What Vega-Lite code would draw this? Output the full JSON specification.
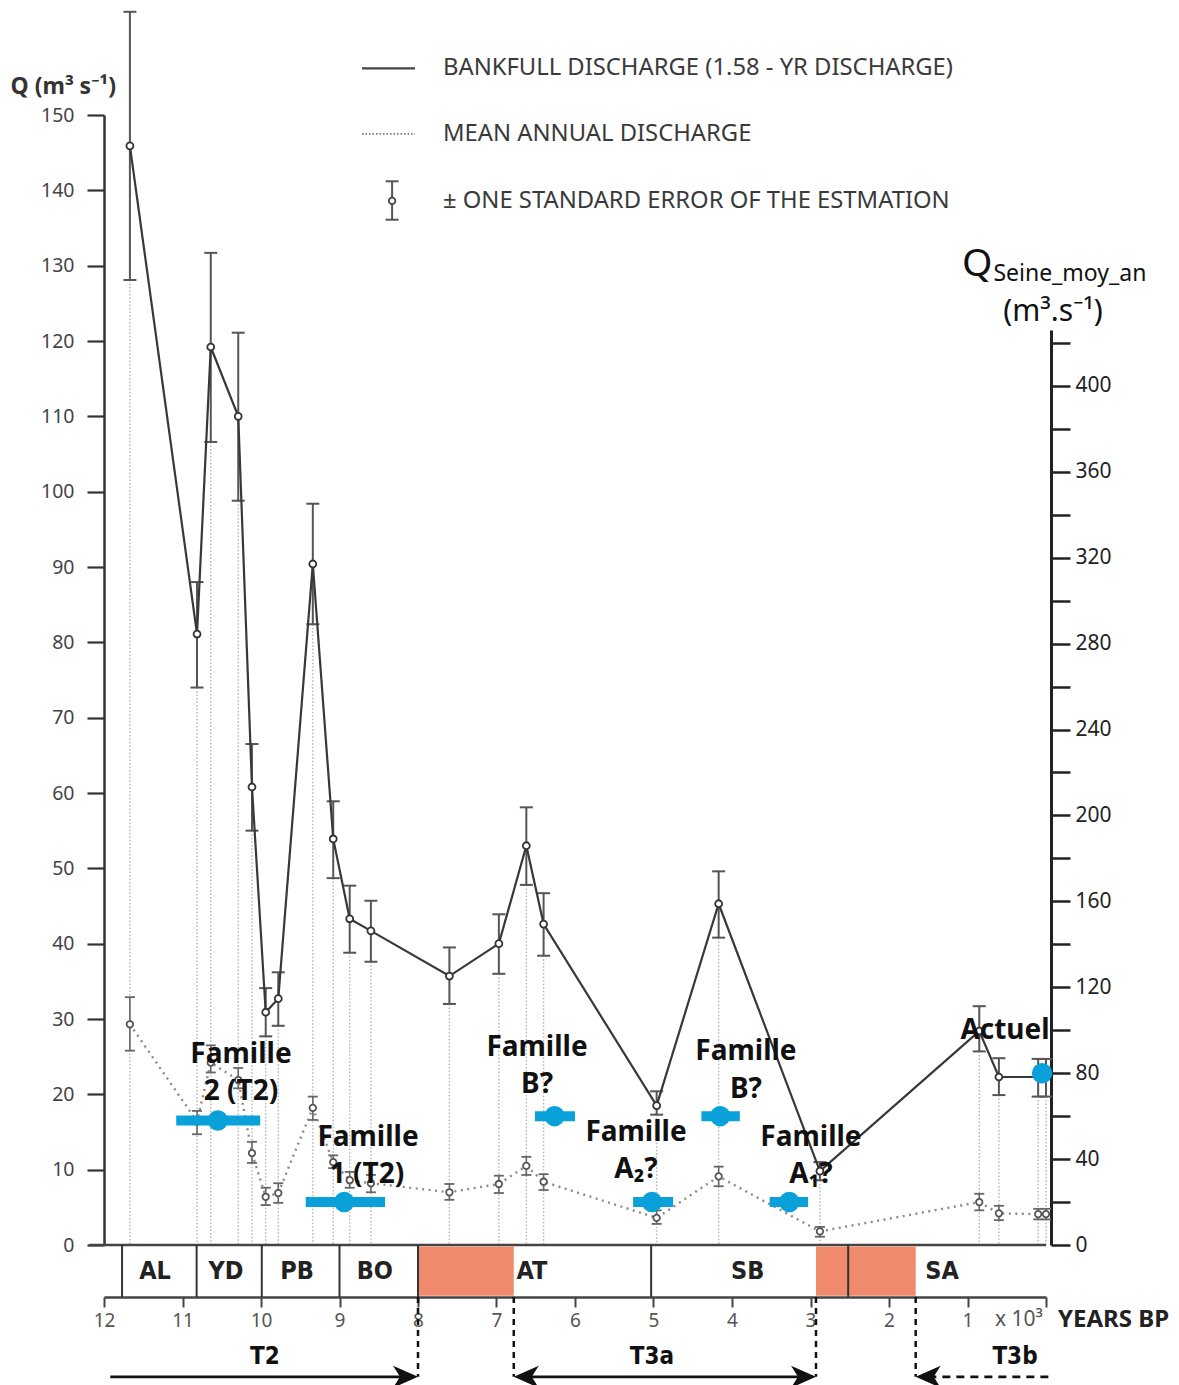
{
  "$schema": "https://vega.github.io/schema/vega-lite/v6.json",
  "autosize": {"type": "none"},
  "padding": {"left": 104, "top": 115, "right": 133, "bottom": 140},
  "width": 942,
  "height": 1130,
  "background": "white",
  "config": {"view": {"stroke": null}, "font": "Noto Sans"},
  "datasets": {
    "pts": [
      {"t": 11.67, "bank": 145.9, "bankLo": 128.1, "bankHi": 163.7, "mean": 29.3, "meanLo": 25.8, "meanHi": 32.9},
      {"t": 10.815, "bank": 81.1, "bankLo": 74.0, "bankHi": 88.0, "mean": 16.4, "meanLo": 14.7, "meanHi": 17.8},
      {"t": 10.64, "bank": 119.2, "bankLo": 106.6, "bankHi": 131.7, "mean": 24.2, "meanLo": 22.9, "meanHi": 26.5},
      {"t": 10.29, "bank": 110.0, "bankLo": 98.8, "bankHi": 121.1, "mean": 21.9, "meanLo": 20.8, "meanHi": 23.5},
      {"t": 10.115, "bank": 60.8, "bankLo": 55.0, "bankHi": 66.5, "mean": 12.2, "meanLo": 10.9, "meanHi": 13.7},
      {"t": 9.94, "bank": 30.9, "bankLo": 27.7, "bankHi": 34.1, "mean": 6.4, "meanLo": 5.3, "meanHi": 7.6},
      {"t": 9.78, "bank": 32.7, "bankLo": 29.1, "bankHi": 36.2, "mean": 6.9, "meanLo": 5.6, "meanHi": 8.2},
      {"t": 9.34, "bank": 90.4, "bankLo": 82.4, "bankHi": 98.4, "mean": 18.2, "meanLo": 16.6, "meanHi": 19.7},
      {"t": 9.08, "bank": 53.9, "bankLo": 48.7, "bankHi": 58.9, "mean": 11.0, "meanLo": 10.2, "meanHi": 11.9},
      {"t": 8.87, "bank": 43.3, "bankLo": 38.8, "bankHi": 47.7, "mean": 8.6, "meanLo": 7.6, "meanHi": 9.7},
      {"t": 8.6, "bank": 41.7, "bankLo": 37.6, "bankHi": 45.7, "mean": 8.2, "meanLo": 7.0, "meanHi": 9.3},
      {"t": 7.6, "bank": 35.7, "bankLo": 32.0, "bankHi": 39.5, "mean": 7.0, "meanLo": 6.0, "meanHi": 8.1},
      {"t": 6.97, "bank": 40.0, "bankLo": 36.0, "bankHi": 43.9, "mean": 8.1, "meanLo": 6.9, "meanHi": 9.2},
      {"t": 6.62, "bank": 53.0, "bankLo": 47.8, "bankHi": 58.1, "mean": 10.5, "meanLo": 9.3, "meanHi": 11.7},
      {"t": 6.4, "bank": 42.6, "bankLo": 38.4, "bankHi": 46.7, "mean": 8.4, "meanLo": 7.3, "meanHi": 9.4},
      {"t": 4.96, "bank": 18.5, "bankLo": 17.3, "bankHi": 20.4, "mean": 3.6, "meanLo": 2.8, "meanHi": 4.6},
      {"t": 4.17, "bank": 45.3, "bankLo": 40.8, "bankHi": 49.6, "mean": 9.1, "meanLo": 7.8, "meanHi": 10.4},
      {"t": 2.88, "bank": 9.8, "bankLo": 8.6, "bankHi": 11.0, "mean": 1.8, "meanLo": 1.1, "meanHi": 2.4},
      {"t": 0.85, "bank": 28.4, "bankLo": 25.7, "bankHi": 31.7, "mean": 5.7, "meanLo": 4.6, "meanHi": 6.8},
      {"t": 0.6, "bank": 22.3, "bankLo": 19.9, "bankHi": 24.8, "mean": 4.2, "meanLo": 3.3, "meanHi": 5.2},
      {"t": 0.1, "bank": 22.3, "bankLo": 19.7, "bankHi": 24.7, "mean": 4.1, "meanLo": 3.4, "meanHi": 4.8},
      {"t": 0.0, "bank": 22.3, "bankLo": 19.7, "bankHi": 24.7, "mean": 4.1, "meanLo": 3.4, "meanHi": 4.8}
    ],
    "seine": [
      {"name": "Famille 2 (T2)", "t": 10.55, "b1": 11.08, "b2": 10.01, "v": 58},
      {"name": "Famille 1 (T2)", "t": 8.94, "b1": 9.43, "b2": 8.42, "v": 20},
      {"name": "Famille B? (1)", "t": 6.26, "b1": 6.51, "b2": 6.0, "v": 60},
      {"name": "Famille A2?", "t": 5.02, "b1": 5.26, "b2": 4.75, "v": 20},
      {"name": "Famille B? (2)", "t": 4.15, "b1": 4.39, "b2": 3.9, "v": 60},
      {"name": "Famille A1?", "t": 3.27, "b1": 3.52, "b2": 3.03, "v": 20},
      {"name": "Actuel", "t": 0.05, "v": 80}
    ],
    "labels": [
      {"t": 10.255, "q": 25.2, "text": "Famille"},
      {"t": 10.255, "q": 20.3, "text": "2 (T2)"},
      {"t": 8.637, "q": 14.2, "text": "Famille"},
      {"t": 8.65, "q": 9.3, "text": "1 (T2)"},
      {"t": 6.484, "q": 26.1, "text": "Famille"},
      {"t": 6.484, "q": 21.2, "text": "B?"},
      {"t": 5.223, "q": 14.9, "text": "Famille"},
      {"t": 5.223, "q": 10.0, "text": "A₂?"},
      {"t": 3.822, "q": 25.6, "text": "Famille"},
      {"t": 3.822, "q": 20.6, "text": "B?"},
      {"t": 2.994, "q": 14.2, "text": "Famille"},
      {"t": 2.994, "q": 9.3, "text": "A₁?"},
      {"t": 0.522, "q": 28.4, "text": "Actuel"}
    ],
    "legendText": [
      {"t": 7.682, "q": 156.2, "text": "BANKFULL DISCHARGE (1.58 - YR DISCHARGE)"},
      {"t": 7.682, "q": 147.5, "text": "MEAN ANNUAL DISCHARGE"},
      {"t": 7.682, "q": 138.6, "text": "± ONE STANDARD ERROR OF THE ESTMATION"}
    ],
    "zones": [
      {"t": 11.35, "label": "AL"},
      {"t": 10.445, "label": "YD"},
      {"t": 9.54, "label": "PB"},
      {"t": 8.55, "label": "BO"},
      {"t": 6.55, "label": "AT"},
      {"t": 3.8, "label": "SB"},
      {"t": 1.325, "label": "SA"}
    ],
    "gaps": [{"t": 8.0, "t2": 6.78}, {"t": 2.93, "t2": 1.66}],
    "bounds": [{"t": 11.77}, {"t": 10.82}, {"t": 9.99}, {"t": 9.0}, {"t": 8.0}, {"t": 5.03}, {"t": 2.52}],
    "limits": [{"t": 8.0}, {"t": 6.78}, {"t": 2.93}, {"t": 1.66}],
    "terraces": [
      {"t": 9.95, "label": "T2"},
      {"t": 5.02, "label": "T3a"},
      {"t": 0.395, "label": "T3b"}
    ]
  },
  "resolve": {"scale": {"y": "independent"}, "axis": {"y": "independent"}},
  "layer": [
    {
      "layer": [
        {
          "data": {"name": "pts"},
          "mark": {"type": "rule", "color": "#b4b4b4", "strokeWidth": 1.4, "strokeDash": [1.5, 2]},
          "encoding": {
            "x": {"field": "t", "type": "quantitative", "scale": {"domain": [0, 12], "reverse": true, "nice": false, "zero": false},
              "axis": {"orient": "bottom", "offset": 52, "values": [0, 1, 2, 3, 4, 5, 6, 7, 8, 9, 10, 11, 12], "format": "d", "labelExpr": "datum.value == 0 ? '' : datum.label", "tickSize": 10, "tickWidth": 2, "tickColor": "#444", "domainColor": "#444", "domainWidth": 2.5, "labelFontSize": 19, "labelColor": "#555", "labelPadding": 4, "labelFlush": false, "labelOverlap": false, "grid": false, "title": null}},
            "y": {"field": "bankLo", "type": "quantitative", "scale": {"domain": [0, 150], "nice": false, "zero": false},
              "axis": {"orient": "left", "values": [0, 10, 20, 30, 40, 50, 60, 70, 80, 90, 100, 110, 120, 130, 140, 150], "format": "d", "tickSize": 17, "tickWidth": 2.2, "tickColor": "#333", "domainColor": "#333", "domainWidth": 2.5, "labelFontSize": 19.5, "labelColor": "#444", "labelPadding": 13, "labelFlush": false, "labelOverlap": false, "grid": false,
                "title": "Q (m³ s⁻¹)", "titleAngle": 0, "titleAlign": "left", "titleBaseline": "middle", "titleX": -94, "titleY": -29, "titleFontSize": 23, "titleFontWeight": "bold", "titleColor": "#333"}},
            "y2": {"datum": 0}
          }
        },
        {
          "data": {"name": "pts"},
          "mark": {"type": "rule", "color": "#666", "strokeWidth": 1.6},
          "encoding": {
            "x": {"field": "t", "type": "quantitative", "scale": {"domain": [0, 12], "reverse": true, "nice": false, "zero": false}},
            "y": {"field": "meanLo", "type": "quantitative", "scale": {"domain": [0, 150], "nice": false, "zero": false}},
            "y2": {"field": "meanHi"}
          }
        },
        {
          "data": {"name": "pts"},
          "mark": {"type": "tick", "orient": "horizontal", "size": 10, "thickness": 1.8, "color": "#666", "opacity": 1},
          "encoding": {
            "x": {"field": "t", "type": "quantitative", "scale": {"domain": [0, 12], "reverse": true, "nice": false, "zero": false}},
            "y": {"field": "meanLo", "type": "quantitative", "scale": {"domain": [0, 150], "nice": false, "zero": false}}
          }
        },
        {
          "data": {"name": "pts"},
          "mark": {"type": "tick", "orient": "horizontal", "size": 10, "thickness": 1.8, "color": "#666", "opacity": 1},
          "encoding": {
            "x": {"field": "t", "type": "quantitative", "scale": {"domain": [0, 12], "reverse": true, "nice": false, "zero": false}},
            "y": {"field": "meanHi", "type": "quantitative", "scale": {"domain": [0, 150], "nice": false, "zero": false}}
          }
        },
        {
          "data": {"name": "pts"},
          "mark": {"type": "line", "color": "#8a8a8a", "strokeWidth": 2.4, "strokeDash": [2, 4.5]},
          "encoding": {
            "x": {"field": "t", "type": "quantitative", "scale": {"domain": [0, 12], "reverse": true, "nice": false, "zero": false}},
            "y": {"field": "mean", "type": "quantitative", "scale": {"domain": [0, 150], "nice": false, "zero": false}}
          }
        },
        {
          "data": {"name": "pts"},
          "mark": {"type": "point", "filled": true, "fill": "white", "stroke": "#555", "strokeWidth": 1.8, "size": 42, "opacity": 1},
          "encoding": {
            "x": {"field": "t", "type": "quantitative", "scale": {"domain": [0, 12], "reverse": true, "nice": false, "zero": false}},
            "y": {"field": "mean", "type": "quantitative", "scale": {"domain": [0, 150], "nice": false, "zero": false}}
          }
        },
        {
          "data": {"name": "pts"},
          "mark": {"type": "rule", "color": "#555", "strokeWidth": 2},
          "encoding": {
            "x": {"field": "t", "type": "quantitative", "scale": {"domain": [0, 12], "reverse": true, "nice": false, "zero": false}},
            "y": {"field": "bankLo", "type": "quantitative", "scale": {"domain": [0, 150], "nice": false, "zero": false}},
            "y2": {"field": "bankHi"}
          }
        },
        {
          "data": {"name": "pts"},
          "mark": {"type": "tick", "orient": "horizontal", "size": 13, "thickness": 2, "color": "#555", "opacity": 1},
          "encoding": {
            "x": {"field": "t", "type": "quantitative", "scale": {"domain": [0, 12], "reverse": true, "nice": false, "zero": false}},
            "y": {"field": "bankLo", "type": "quantitative", "scale": {"domain": [0, 150], "nice": false, "zero": false}}
          }
        },
        {
          "data": {"name": "pts"},
          "mark": {"type": "tick", "orient": "horizontal", "size": 13, "thickness": 2, "color": "#555", "opacity": 1},
          "encoding": {
            "x": {"field": "t", "type": "quantitative", "scale": {"domain": [0, 12], "reverse": true, "nice": false, "zero": false}},
            "y": {"field": "bankHi", "type": "quantitative", "scale": {"domain": [0, 150], "nice": false, "zero": false}}
          }
        },
        {
          "data": {"name": "pts"},
          "mark": {"type": "line", "color": "#383838", "strokeWidth": 2.2},
          "encoding": {
            "x": {"field": "t", "type": "quantitative", "scale": {"domain": [0, 12], "reverse": true, "nice": false, "zero": false}},
            "y": {"field": "bank", "type": "quantitative", "scale": {"domain": [0, 150], "nice": false, "zero": false}}
          }
        },
        {
          "data": {"name": "pts"},
          "mark": {"type": "point", "filled": true, "fill": "white", "stroke": "#333", "strokeWidth": 1.8, "size": 48, "opacity": 1},
          "encoding": {
            "x": {"field": "t", "type": "quantitative", "scale": {"domain": [0, 12], "reverse": true, "nice": false, "zero": false}},
            "y": {"field": "bank", "type": "quantitative", "scale": {"domain": [0, 150], "nice": false, "zero": false}}
          }
        },
        {
          "data": {"values": [{"t": 8.713, "t2": 8.038, "q": 156.2}]},
          "mark": {"type": "rule", "color": "#444", "strokeWidth": 2.2},
          "encoding": {
            "x": {"field": "t", "type": "quantitative", "scale": {"domain": [0, 12], "reverse": true, "nice": false, "zero": false}},
            "x2": {"field": "t2"},
            "y": {"field": "q", "type": "quantitative", "scale": {"domain": [0, 150], "nice": false, "zero": false}}
          }
        },
        {
          "data": {"values": [{"t": 8.713, "t2": 8.038, "q": 147.5}]},
          "mark": {"type": "rule", "color": "#777", "strokeWidth": 1.6, "strokeDash": [1.5, 2]},
          "encoding": {
            "x": {"field": "t", "type": "quantitative", "scale": {"domain": [0, 12], "reverse": true, "nice": false, "zero": false}},
            "x2": {"field": "t2"},
            "y": {"field": "q", "type": "quantitative", "scale": {"domain": [0, 150], "nice": false, "zero": false}}
          }
        },
        {
          "data": {"values": [{"t": 8.33, "q": 138.6, "lo": 136.1, "hi": 141.2}]},
          "mark": {"type": "rule", "color": "#555", "strokeWidth": 2},
          "encoding": {
            "x": {"field": "t", "type": "quantitative", "scale": {"domain": [0, 12], "reverse": true, "nice": false, "zero": false}},
            "y": {"field": "lo", "type": "quantitative", "scale": {"domain": [0, 150], "nice": false, "zero": false}},
            "y2": {"field": "hi"}
          }
        },
        {
          "data": {"values": [{"t": 8.33, "q": 138.6, "lo": 136.1, "hi": 141.2}]},
          "mark": {"type": "tick", "orient": "horizontal", "size": 13, "thickness": 2, "color": "#555", "opacity": 1},
          "encoding": {
            "x": {"field": "t", "type": "quantitative", "scale": {"domain": [0, 12], "reverse": true, "nice": false, "zero": false}},
            "y": {"field": "lo", "type": "quantitative", "scale": {"domain": [0, 150], "nice": false, "zero": false}}
          }
        },
        {
          "data": {"values": [{"t": 8.33, "q": 138.6, "lo": 136.1, "hi": 141.2}]},
          "mark": {"type": "tick", "orient": "horizontal", "size": 13, "thickness": 2, "color": "#555", "opacity": 1},
          "encoding": {
            "x": {"field": "t", "type": "quantitative", "scale": {"domain": [0, 12], "reverse": true, "nice": false, "zero": false}},
            "y": {"field": "hi", "type": "quantitative", "scale": {"domain": [0, 150], "nice": false, "zero": false}}
          }
        },
        {
          "data": {"values": [{"t": 8.33, "q": 138.6, "lo": 136.1, "hi": 141.2}]},
          "mark": {"type": "point", "filled": true, "fill": "white", "stroke": "#444", "strokeWidth": 1.8, "size": 42, "opacity": 1},
          "encoding": {
            "x": {"field": "t", "type": "quantitative", "scale": {"domain": [0, 12], "reverse": true, "nice": false, "zero": false}},
            "y": {"field": "q", "type": "quantitative", "scale": {"domain": [0, 150], "nice": false, "zero": false}}
          }
        },
        {
          "data": {"name": "legendText"},
          "mark": {"type": "text", "align": "left", "baseline": "middle", "fontSize": 23.8, "color": "#3a3a3a", "font": "Noto Sans"},
          "encoding": {
            "x": {"field": "t", "type": "quantitative", "scale": {"domain": [0, 12], "reverse": true, "nice": false, "zero": false}},
            "y": {"field": "q", "type": "quantitative", "scale": {"domain": [0, 150], "nice": false, "zero": false}},
            "text": {"field": "text"}
          }
        },
        {
          "data": {"values": [{"t": 12.19, "t2": 0}]},
          "mark": {"type": "rule", "color": "#444", "strokeWidth": 2.5},
          "encoding": {
            "x": {"field": "t", "type": "quantitative", "scale": {"domain": [0, 12], "reverse": true, "nice": false, "zero": false}},
            "x2": {"field": "t2"},
            "y": {"datum": 0, "type": "quantitative", "scale": {"domain": [0, 150], "nice": false, "zero": false}}
          }
        },
        {
          "data": {"name": "gaps"},
          "mark": {"type": "rect", "color": "#f08a6c", "opacity": 1},
          "encoding": {
            "x": {"field": "t", "type": "quantitative", "scale": {"domain": [0, 12], "reverse": true, "nice": false, "zero": false}},
            "x2": {"field": "t2"},
            "y": {"datum": -0.2, "type": "quantitative", "scale": {"domain": [0, 150], "nice": false, "zero": false}},
            "y2": {"datum": -6.75}
          }
        },
        {
          "data": {"name": "bounds"},
          "mark": {"type": "rule", "color": "#333", "strokeWidth": 2},
          "encoding": {
            "x": {"field": "t", "type": "quantitative", "scale": {"domain": [0, 12], "reverse": true, "nice": false, "zero": false}},
            "y": {"datum": 0, "type": "quantitative", "scale": {"domain": [0, 150], "nice": false, "zero": false}},
            "y2": {"datum": -6.9}
          }
        },
        {
          "data": {"name": "zones"},
          "mark": {"type": "text", "align": "center", "baseline": "middle", "fontSize": 25, "fontWeight": "bold", "color": "#222", "font": "DejaVu Sans Condensed, Liberation Sans Narrow, Roboto"},
          "encoding": {
            "x": {"field": "t", "type": "quantitative", "scale": {"domain": [0, 12], "reverse": true, "nice": false, "zero": false}},
            "y": {"datum": -3.5, "type": "quantitative", "scale": {"domain": [0, 150], "nice": false, "zero": false}},
            "text": {"field": "label"}
          }
        },
        {
          "data": {"name": "limits"},
          "mark": {"type": "rule", "color": "#111", "strokeWidth": 2.5, "strokeDash": [6, 5]},
          "encoding": {
            "x": {"field": "t", "type": "quantitative", "scale": {"domain": [0, 12], "reverse": true, "nice": false, "zero": false}},
            "y": {"datum": -6.9, "type": "quantitative", "scale": {"domain": [0, 150], "nice": false, "zero": false}},
            "y2": {"datum": -17.5}
          }
        },
        {
          "data": {"values": [{"t": 11.92, "t2": 8.1}, {"t": 6.7, "t2": 3.03}]},
          "mark": {"type": "rule", "color": "#111", "strokeWidth": 2.8},
          "encoding": {
            "x": {"field": "t", "type": "quantitative", "scale": {"domain": [0, 12], "reverse": true, "nice": false, "zero": false}},
            "x2": {"field": "t2"},
            "y": {"datum": -17.5, "type": "quantitative", "scale": {"domain": [0, 150], "nice": false, "zero": false}}
          }
        },
        {
          "data": {"values": [{"t": -0.03, "t2": 1.55}]},
          "mark": {"type": "rule", "color": "#111", "strokeWidth": 2.8, "strokeDash": [8, 6]},
          "encoding": {
            "x": {"field": "t", "type": "quantitative", "scale": {"domain": [0, 12], "reverse": true, "nice": false, "zero": false}},
            "x2": {"field": "t2"},
            "y": {"datum": -17.5, "type": "quantitative", "scale": {"domain": [0, 150], "nice": false, "zero": false}}
          }
        },
        {
          "data": {"values": [{"t": 8.0}, {"t": 2.93}]},
          "mark": {"type": "point", "shape": "M0,0 L-1,-0.44 L-0.72,0 L-1,0.44 Z", "filled": true, "color": "#111", "size": 2500, "opacity": 1},
          "encoding": {
            "x": {"field": "t", "type": "quantitative", "scale": {"domain": [0, 12], "reverse": true, "nice": false, "zero": false}},
            "y": {"datum": -17.5, "type": "quantitative", "scale": {"domain": [0, 150], "nice": false, "zero": false}}
          }
        },
        {
          "data": {"values": [{"t": 6.78}, {"t": 1.66}]},
          "mark": {"type": "point", "shape": "M0,0 L1,-0.44 L0.72,0 L1,0.44 Z", "filled": true, "color": "#111", "size": 2500, "opacity": 1},
          "encoding": {
            "x": {"field": "t", "type": "quantitative", "scale": {"domain": [0, 12], "reverse": true, "nice": false, "zero": false}},
            "y": {"datum": -17.5, "type": "quantitative", "scale": {"domain": [0, 150], "nice": false, "zero": false}}
          }
        },
        {
          "data": {"name": "terraces"},
          "mark": {"type": "text", "align": "center", "baseline": "middle", "fontSize": 24, "fontWeight": "bold", "color": "#111", "font": "DejaVu Sans Condensed, Liberation Sans Narrow, Noto Sans"},
          "encoding": {
            "x": {"field": "t", "type": "quantitative", "scale": {"domain": [0, 12], "reverse": true, "nice": false, "zero": false}},
            "y": {"datum": -14.9, "type": "quantitative", "scale": {"domain": [0, 150], "nice": false, "zero": false}},
            "text": {"field": "label"}
          }
        },
        {
          "data": {"values": [{"t": 0.65, "text": "x 10³"}]},
          "mark": {"type": "text", "align": "left", "baseline": "middle", "fontSize": 21, "color": "#555", "font": "Noto Sans"},
          "encoding": {
            "x": {"field": "t", "type": "quantitative", "scale": {"domain": [0, 12], "reverse": true, "nice": false, "zero": false}},
            "y": {"datum": -9.96, "type": "quantitative", "scale": {"domain": [0, 150], "nice": false, "zero": false}},
            "text": {"field": "text"}
          }
        },
        {
          "data": {"values": [{"t": -0.153, "text": "YEARS BP"}]},
          "mark": {"type": "text", "align": "left", "baseline": "middle", "fontSize": 24, "fontWeight": "bold", "color": "#222", "font": "Noto Sans"},
          "encoding": {
            "x": {"field": "t", "type": "quantitative", "scale": {"domain": [0, 12], "reverse": true, "nice": false, "zero": false}},
            "y": {"datum": -9.96, "type": "quantitative", "scale": {"domain": [0, 150], "nice": false, "zero": false}},
            "text": {"field": "text"}
          }
        },
        {
          "data": {"name": "labels"},
          "mark": {"type": "text", "align": "center", "baseline": "middle", "fontSize": 28, "fontWeight": "bold", "color": "#111", "font": "Noto Sans"},
          "encoding": {
            "x": {"field": "t", "type": "quantitative", "scale": {"domain": [0, 12], "reverse": true, "nice": false, "zero": false}},
            "y": {"field": "q", "type": "quantitative", "scale": {"domain": [0, 150], "nice": false, "zero": false}},
            "text": {"field": "text"}
          }
        },
        {
          "data": {"values": [{"t": 1.07, "q": 128.6, "text": "Q"}]},
          "mark": {"type": "text", "align": "left", "baseline": "alphabetic", "fontSize": 39, "color": "#111", "font": "Noto Sans"},
          "encoding": {
            "x": {"field": "t", "type": "quantitative", "scale": {"domain": [0, 12], "reverse": true, "nice": false, "zero": false}},
            "y": {"field": "q", "type": "quantitative", "scale": {"domain": [0, 150], "nice": false, "zero": false}},
            "text": {"field": "text"}
          }
        },
        {
          "data": {"values": [{"t": 0.67, "q": 128.0, "text": "Seine_moy_an"}]},
          "mark": {"type": "text", "align": "left", "baseline": "alphabetic", "fontSize": 23, "color": "#111", "font": "Noto Sans"},
          "encoding": {
            "x": {"field": "t", "type": "quantitative", "scale": {"domain": [0, 12], "reverse": true, "nice": false, "zero": false}},
            "y": {"field": "q", "type": "quantitative", "scale": {"domain": [0, 150], "nice": false, "zero": false}},
            "text": {"field": "text"}
          }
        },
        {
          "data": {"values": [{"t": -0.089, "q": 122.7, "text": "(m³.s⁻¹)"}]},
          "mark": {"type": "text", "align": "center", "baseline": "alphabetic", "fontSize": 30, "color": "#111", "font": "Noto Sans"},
          "encoding": {
            "x": {"field": "t", "type": "quantitative", "scale": {"domain": [0, 12], "reverse": true, "nice": false, "zero": false}},
            "y": {"field": "q", "type": "quantitative", "scale": {"domain": [0, 150], "nice": false, "zero": false}},
            "text": {"field": "text"}
          }
        }
      ]
    },
    {
      "layer": [
        {
          "data": {"name": "seine"},
          "transform": [{"filter": "isValid(datum.b1)"}],
          "mark": {"type": "rule", "color": "#0aa0da", "strokeWidth": 10},
          "encoding": {
            "x": {"field": "b1", "type": "quantitative", "scale": {"domain": [0, 12], "reverse": true, "nice": false, "zero": false}},
            "x2": {"field": "b2"},
            "y": {"field": "v", "type": "quantitative", "scale": {"domain": [0, 426], "range": [1130, 215], "nice": false, "zero": false},
              "axis": {"orient": "right", "offset": 5, "values": [0, 20, 40, 60, 80, 100, 120, 140, 160, 180, 200, 220, 240, 260, 280, 300, 320, 340, 360, 380, 400, 420], "labelExpr": "datum.value % 40 == 0 ? datum.label : ''", "tickSize": 19, "tickWidth": 2.5, "tickColor": "#222", "domainColor": "#222", "domainWidth": 3, "labelFontSize": 21, "labelColor": "#222", "labelPadding": 5, "labelFlush": false, "labelOverlap": false, "grid": false, "title": null}}
          }
        },
        {
          "data": {"name": "seine"},
          "mark": {"type": "point", "filled": true, "color": "#0aa0da", "size": 420, "opacity": 1},
          "encoding": {
            "x": {"field": "t", "type": "quantitative", "scale": {"domain": [0, 12], "reverse": true, "nice": false, "zero": false}},
            "y": {"field": "v", "type": "quantitative", "scale": {"domain": [0, 426], "range": [1130, 215], "nice": false, "zero": false}}
          }
        }
      ]
    }
  ]
}
